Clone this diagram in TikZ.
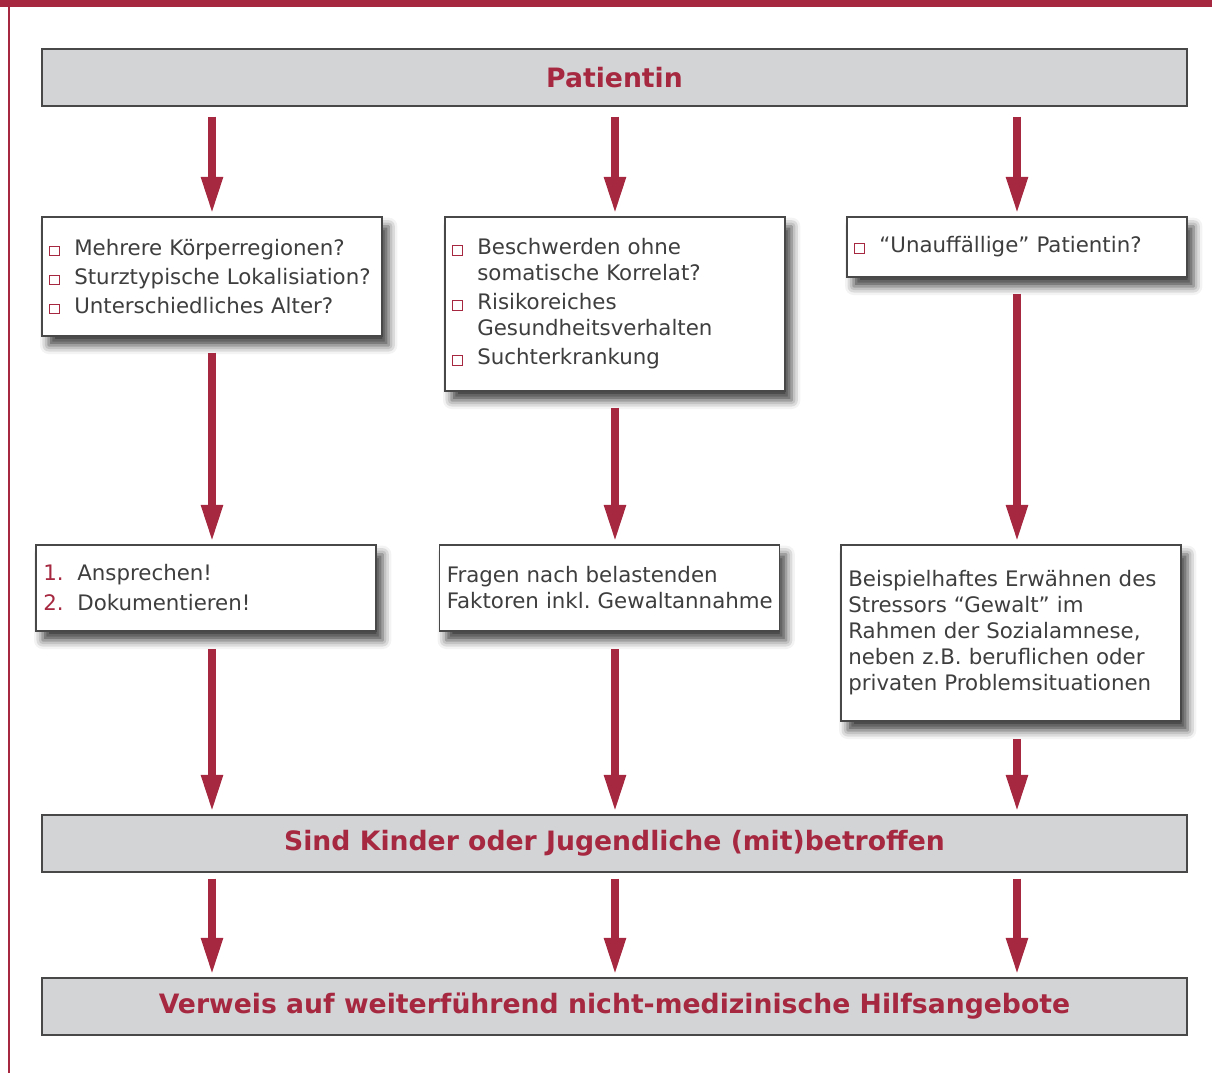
\documentclass[tikz,border=0pt]{standalone}
\usepackage{fontspec}
\setmainfont{DejaVu Sans}
\usetikzlibrary{arrows.meta,shadows.blur}
\definecolor{crimson}{RGB}{166,40,64}
\definecolor{boxgray}{RGB}{211,212,214}
\definecolor{framegray}{RGB}{72,72,72}
\definecolor{textgray}{RGB}{62,62,62}
\newcommand{\sqbox}{{\color{crimson}\fboxsep=0pt\fboxrule=0.6pt\fbox{\rule{0pt}{6.5pt}\rule{6.5pt}{0pt}}}}
\newcommand{\itm}[1]{\mbox{\makebox[18.75pt][l]{\sqbox}#1}}
\newcommand{\cont}{\hspace*{18.75pt}}
\newcommand{\num}[1]{\makebox[25.5pt][l]{\color{crimson}#1.}}

\begin{document}
\begin{tikzpicture}[x=0.75pt,y=-0.75pt,>={Triangle[length=28pt,width=15pt]},
    head/.style={draw=framegray,line width=1.1pt,fill=boxgray,minimum width=858.75pt,minimum height=42.75pt,
      text=crimson,font=\fontsize{20pt}{22pt}\selectfont\bfseries},
    card/.style={draw=framegray,line width=1.1pt,fill=white,minimum width=255pt,inner xsep=5.5pt,
      text width=244pt,align=left,text=textgray,font=\fontsize{16pt}{19.5pt}\selectfont\frenchspacing,
      blur shadow={shadow xshift=5pt,shadow yshift=-7pt,shadow blur radius=6.5pt,shadow opacity=75}},
    flow/.style={->,crimson,line width=6pt,shorten >=1.5pt}]
    \useasboundingbox (0,0) rectangle (1212,1073);
    % frame
    \fill[crimson] (0,0) rectangle (1212,7);
    \fill[crimson] (8,7) rectangle (10,1073);

    \node (pat) at (614.5,77.5) [head]{Patientin};

    \node (sign) at (212,276.5) [card,minimum height=89.25pt]{\itm{Mehrere Körperregionen?}\\[2.25pt]
      \itm{Sturztypische Lokalisiation?}\\[2.25pt]
      \itm{Unterschiedliches Alter?}};
    \node (compl) at (615,304) [card,minimum height=130.5pt]{\itm{Beschwerden ohne}\\
      \cont somatische Korrelat?\\[2.25pt]
      \itm{Risikoreiches}\\
      \cont Gesundheitsverhalten\\[2.25pt]
      \itm{Suchterkrankung}};
    \node (plain) at (1017,247) [card,minimum height=45pt]{\itm{“Unauffällige” Patientin?}};

    \node (talk) at (206,588) [card,minimum height=64.5pt]{\num{1}Ansprechen!\\[3pt]
      \num{2}Dokumentieren!};
    \node (ask) at (609.5,588) [card,minimum height=64.5pt]{Fragen nach belastenden\\
      \mbox{Faktoren inkl. Gewaltannahme}};
    \node (hint) at (1011,633) [card,minimum height=132pt]{\mbox{Beispielhaftes Erwähnen des}\\
      Stressors “Gewalt” im\\
      Rahmen der Sozialamnese,\\
      neben z.B. beruflichen oder\\
      \mbox{privaten Problemsituationen}};

    \node (kids) at (614.5,843.5) [head]{Sind Kinder oder Jugendliche (mit)betroffen};
    \node (help) at (614.5,1006.5) [head]{Verweis auf weiterführend nicht-medizinische Hilfsangebote};

    \foreach \upper/\lower in {sign/talk,compl/ask,plain/hint}{
      \draw [flow,shorten <=7.5pt] (pat.south -| \upper.north) -- (\upper.north);
      \draw [flow,shorten <=12pt] (\upper.south) -- (\upper.south |- \lower.north);
      \draw [flow,shorten <=13pt] (\upper.south |- \lower.south) -- (\upper.south |- kids.north);
      \draw [flow,shorten <=4.5pt] (kids.south -| \upper.south) -- (\upper.south |- help.north);
    }
\end{tikzpicture}
\end{document}
